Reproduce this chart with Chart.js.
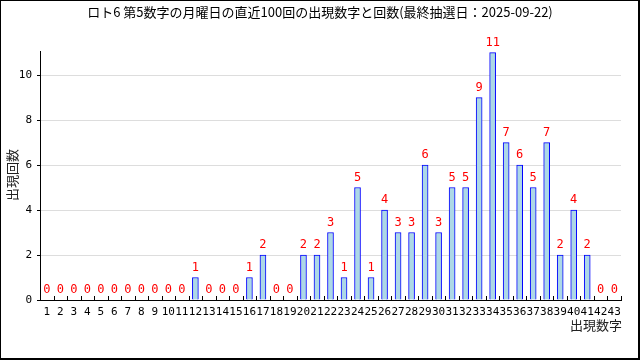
<!DOCTYPE html>
<html><head><meta charset="utf-8">
<script src="https://cdn.jsdelivr.net/npm/chart.js@4/dist/chart.umd.min.js"></script>
<style>html,body{margin:0;padding:0;background:#fff}#wrap{width:640px;height:360px}</style>
</head><body><div id="wrap"><canvas id="c" width="640" height="360"></canvas></div>
<script>
const categories = ["1","2","3","4","5","6","7","8","9","10","11","12","13","14","15","16","17","18","19","20","21","22","23","24","25","26","27","28","29","30","31","32","33","34","35","36","37","38","39","40","41","42","43"];
const counts = [0,0,0,0,0,0,0,0,0,0,0,1,0,0,0,1,2,0,0,2,2,3,1,5,1,4,3,3,6,3,5,5,9,11,7,6,5,7,2,4,2,0,0];
const yTicks = [0,2,4,6,8,10];
const titleText = "ロト6 第5数字の月曜日の直近100回の出現数字と回数(最終抽選日：2025-09-22)";
const xTitle = "出現数字";
const yTitle = "出現回数";

const jp = '"Noto Sans CJK JP", sans-serif';
const mono = '"DejaVu Sans Mono", monospace';

const deco = {
  id: 'deco',
  afterDatasetsDraw(chart) {
    const ctx = chart.ctx, x = chart.scales.x, ca = chart.chartArea;
    ctx.save();
    ctx.strokeStyle = '#000'; ctx.lineWidth = 1;
    for (let i = 0; i <= categories.length; i++) {
      const px = Math.round(x.getPixelForValue(i - 0.5)) + 0.5;
      ctx.beginPath(); ctx.moveTo(px, ca.bottom); ctx.lineTo(px, ca.bottom - 4); ctx.stroke();
    }
    const meta = chart.getDatasetMeta(0);
    ctx.fillStyle = '#ff0000'; ctx.font = '12px ' + mono;
    ctx.textAlign = 'center'; ctx.textBaseline = 'middle';
    meta.data.forEach((el, i) => { ctx.fillText(String(counts[i]), el.x, el.y - 10); });
    ctx.restore();
  },
  afterDraw(chart) {
    const ctx = chart.ctx, ca = chart.chartArea;
    ctx.save();
    ctx.fillStyle = '#000';
    ctx.font = '13px ' + jp; ctx.textAlign = 'center'; ctx.textBaseline = 'middle';
    ctx.fillText(titleText, 320, 12);
    ctx.font = '13px ' + jp; ctx.textAlign = 'right';
    ctx.fillStyle = '#222';
    ctx.fillText(xTitle, ca.right + 1, 325);
    ctx.translate(12, 175); ctx.rotate(-Math.PI / 2); ctx.textAlign = 'center';
    ctx.fillText(yTitle, 0, 0);
    ctx.restore();
    ctx.save();
    ctx.fillStyle = '#000';
    ctx.fillRect(0, 0, 640, 1);
    ctx.fillRect(0, 0, 1, 360);
    ctx.fillRect(638, 0, 2, 360);
    ctx.fillRect(0, 358, 640, 2);
    ctx.restore();
  }
};

new Chart(document.getElementById('c'), {
  type: 'bar',
  data: { labels: categories, datasets: [{ data: counts, backgroundColor: '#add8e6', borderColor: '#0000ff', borderWidth: 1, barThickness: 6 }] },
  options: {
    responsive: false, animation: false,
    layout: { padding: { top: 51, right: 19, left: 0, bottom: 0 } },
    plugins: { legend: { display: false }, tooltip: { enabled: false }, title: { display: false } },
    scales: {
      x: {
        offset: true,
        grid: { display: true, drawOnChartArea: false, drawTicks: false, offset: true },
        border: { color: '#000', width: 1 },
        ticks: { autoSkip: false, maxRotation: 0, minRotation: 0, color: '#000', font: { family: mono, size: 11 }, padding: 6 },
        afterFit(s) { s.height = 60; }
      },
      y: {
        min: 0, max: 11.07,
        grid: { color: '#dddddd', tickColor: '#000', tickLength: 3 },
        border: { color: '#000', width: 1 },
        ticks: { stepSize: 2, color: '#000', font: { family: mono, size: 11 }, padding: 5,
          callback: v => yTicks.includes(v) ? String(v) : null },
        afterFit(s) { s.width = 40; }
      }
    }
  },
  plugins: [deco]
});
</script></body></html>
